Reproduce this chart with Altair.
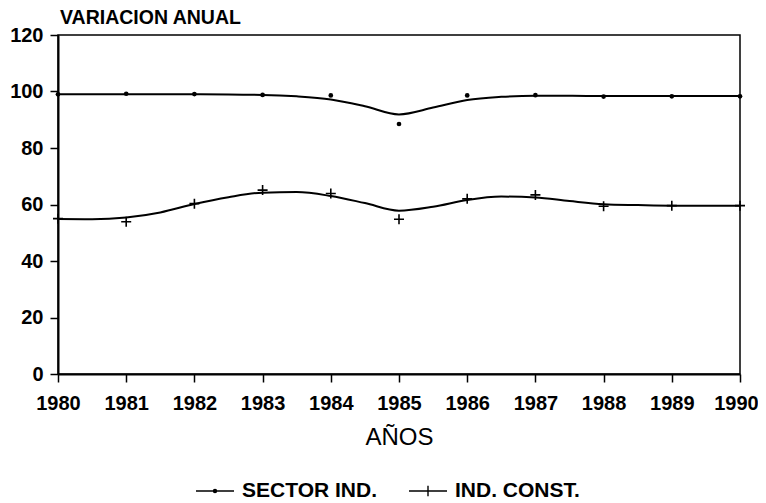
import altair as alt
import pandas as pd

S = "SECTOR IND."
C = "IND. CONST."
series = [S, C]

years = [1980, 1981, 1982, 1983, 1984, 1985, 1986, 1987, 1988, 1989, 1990]
sector_ind = [99.0, 99.2, 99.1, 98.8, 98.6, 88.5, 98.6, 98.7, 98.2, 98.3, 98.3]
ind_const = [55.0, 53.9, 60.3, 65.1, 63.9, 54.8, 62.0, 63.4, 59.4, 59.6, 59.6]

curve_years = [1980, 1980.5, 1981, 1981.5, 1982, 1982.5, 1983, 1983.5, 1984, 1984.5,
               1985, 1985.5, 1986, 1986.5, 1987, 1987.5, 1988, 1988.5, 1989, 1989.5, 1990]
sector_curve = [99.0, 99.0, 99.0, 99.0, 99.0, 98.9, 98.8, 98.3, 97.2, 94.8, 91.9,
                94.3, 97.0, 98.1, 98.5, 98.5, 98.4, 98.4, 98.4, 98.4, 98.4]
const_curve = [54.9, 54.8, 55.4, 57.2, 60.2, 62.6, 64.2, 64.4, 63.0, 60.5, 57.8,
               59.2, 61.6, 62.8, 62.5, 61.2, 60.1, 59.8, 59.6, 59.6, 59.6]

y_ticks = [0, 20, 40, 60, 80, 100, 120]

pts = pd.DataFrame({
    "anio": years + years,
    "valor": sector_ind + ind_const,
    "serie": [S] * len(years) + [C] * len(years),
})
curve = pd.DataFrame({
    "anio": curve_years + curve_years,
    "valor": sector_curve + const_curve,
    "serie": [S] * len(curve_years) + [C] * len(curve_years),
})

x = alt.X("anio:Q",
          scale=alt.Scale(domain=[1980, 1990], nice=False, zero=False),
          axis=alt.Axis(values=years, format="d", title="AÑOS", labelFlush=False,
                        labelOffset={"condition": {"test": "datum.value == 1990", "value": -4},
                                     "value": 0},
                        labelPadding=11, titlePadding=12,
                        titleFontSize=24, titleFontWeight="normal"))
y = alt.Y("valor:Q",
          scale=alt.Scale(domain=[0, 120], nice=False),
          axis=alt.Axis(values=y_ticks, title=None, labelPadding=7))

dot_path = "M-1,0H1M-0.08,0A0.08,0.08 0 1,1 0.08,0A0.08,0.08 0 1,1 -0.08,0"
cross_path = "M-1,0H1M0,-0.27V0.27"

lines = alt.Chart(curve).mark_line(
    strokeWidth=2, interpolate="monotone", color="black"
).encode(x=x, y=y, detail="serie:N")

legend_layer = alt.Chart(pts).transform_filter("false").mark_point(
    filled=False, color="black", strokeWidth=1.4, opacity=1, size=1444
).encode(
    x=x, y=y,
    shape=alt.Shape("serie:N",
                    scale=alt.Scale(domain=series, range=[dot_path, cross_path]),
                    legend=alt.Legend(
                        title=None, orient="none", direction="horizontal",
                        legendX=137, legendY=436,
                        symbolSize=1444, symbolStrokeWidth=1.4,
                        symbolStrokeColor="black",
                        labelFont="Liberation Sans", labelFontSize=21,
                        labelFontWeight="bold", labelColor="black",
                        labelOffset=7, columnPadding=29)),
)

dots = alt.Chart(pts).transform_filter(alt.datum.serie == S).mark_point(
    shape="circle", filled=True, size=22, color="black", opacity=1
).encode(x=x, y=y)

plus = alt.Chart(pts).transform_filter(alt.datum.serie == C).mark_point(
    shape="M-1,0H1M0,-1V1", filled=False, size=100, strokeWidth=1.6, color="black", opacity=1
).encode(x=x, y=y)

chart = alt.layer(lines, dots, plus, legend_layer).properties(
    width=682, height=339,
    background="white",
    title=alt.TitleParams("VARIACION ANUAL", anchor="start", frame="group",
                          font="Liberation Sans", fontSize=19.5, fontWeight="bold",
                          color="black", offset=2, dx=2, dy=5),
    autosize=alt.AutoSizeParams(type="none"),
    padding={"left": 50, "top": 27, "right": 18, "bottom": 129},
).configure_view(
    stroke="black", strokeWidth=1.5
).configure_axis(
    grid=False, domainColor="black", domainWidth=2,
    tickColor="black", tickWidth=1.5, tickSize=8,
    labelFont="Liberation Sans", labelFontSize=20, labelFontWeight="bold",
    labelColor="black", titleFont="Liberation Sans", titleColor="black",
)

chart.save("out.html", embed_options={"renderer": "svg", "actions": False})
